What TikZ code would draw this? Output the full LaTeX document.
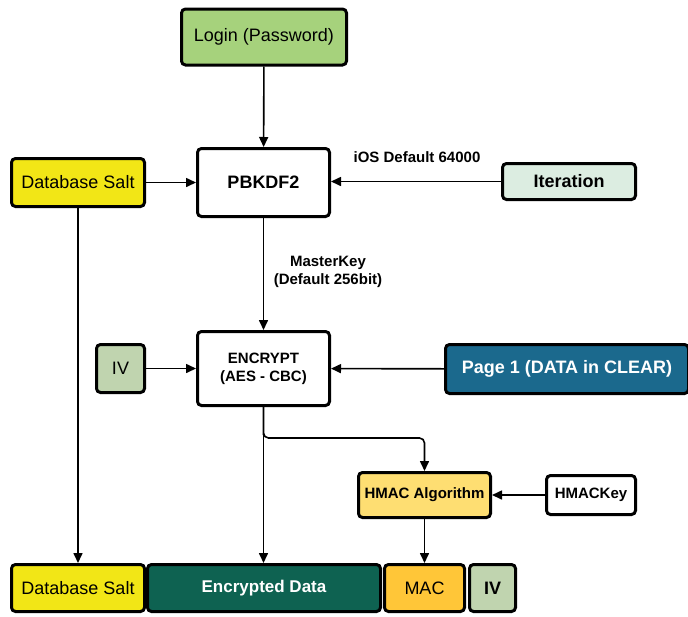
\documentclass[tikz,border=0pt]{standalone}
\usepackage{fontspec}
\setmainfont{Liberation Sans}
\usetikzlibrary{arrows.meta}

\definecolor{logingreen}{HTML}{A6D27C}
\definecolor{saltyellow}{HTML}{F2E616}
\definecolor{itermint}{HTML}{DCEDE1}
\definecolor{ivgreen}{HTML}{C0D4AF}
\definecolor{pageblue}{HTML}{1B698D}
\definecolor{hmacyellow}{HTML}{FEDE72}
\definecolor{datagreen}{HTML}{0E6251}
\definecolor{macorange}{HTML}{FFC638}

\begin{document}
\begin{tikzpicture}[x=1pt,y=-1pt,
  box/.style={draw=black, line width=3pt, rounded corners=4pt, inner sep=0pt,
    align=center, font=\fontsize{18}{21}\selectfont},
  boldbox/.style={box, font=\bfseries\fontsize{18}{21}\selectfont},
  smallbox/.style={box, font=\bfseries\fontsize{15}{18}\selectfont},
  lbl/.style={font=\bfseries\fontsize{15}{18}\selectfont, align=center, inner sep=0pt},
  link/.style={line width=1.6pt, -{Triangle[length=10pt,width=9pt]}}]

\useasboundingbox (0,0) rectangle (688,616);

% key derivation
\node[box, fill=logingreen, minimum width=165pt, minimum height=56pt] (login) at (264,37) {Login (Password)};
\node[boldbox, fill=white, minimum width=132pt, minimum height=68pt] (pbkdf) at (263.5,182.5) {PBKDF2};
\node[box, fill=saltyellow, minimum width=133pt, minimum height=48pt] (salt) at (78,182.5) {Database Salt};
\node[boldbox, fill=itermint, minimum width=133pt, minimum height=36pt] (iter) at (569,181.5) {Iteration};
\node[lbl] (iosdef) at (417,157) {iOS Default 64000};

% encryption
\node[smallbox, fill=white, minimum width=132pt, minimum height=74pt] (enc) at (263.5,368.5) {ENCRYPT\\(AES - CBC)};
\node[box, fill=ivgreen, minimum width=48pt, minimum height=48pt] (iv) at (120.5,368.5) {IV};
\node[boldbox, fill=pageblue, text=white, minimum width=243pt, minimum height=49pt] (page) at (567,369) {Page 1 (DATA in CLEAR)};
\node[lbl] (mkey) at (328,272) {MasterKey\\(Default 256bit)};

% authentication
\node[smallbox, fill=hmacyellow, minimum width=132pt, minimum height=45pt] (hmac) at (424.5,495) {HMAC Algorithm};
\node[smallbox, fill=white, minimum width=89pt, minimum height=39pt] (hkey) at (591,495) {HMACKey};

% stored page layout
\node[box, fill=saltyellow, minimum width=133pt, minimum height=47pt] (bsalt) at (78,588) {Database Salt};
\node[box, fill=datagreen, text=white, font=\bfseries\fontsize{17}{20}\selectfont, minimum width=233pt, minimum height=47pt] (edata) at (264,588) {Encrypted Data};
\node[box, fill=macorange, minimum width=80pt, minimum height=47pt] (mac) at (424.5,588) {MAC};
\node[boldbox, fill=ivgreen, minimum width=46pt, minimum height=47pt] (biv) at (492.5,588) {IV};

\coordinate (split) at (263.5,438);

% connectors
\draw[link] (login) -- (pbkdf);
\draw[link] (salt) -- (pbkdf);
\draw[link] (iter.west) -- (iter.west -| pbkdf.east);
\draw[link] (pbkdf) -- (enc);
\draw[link] (iv) -- (enc);
\draw[link] (page) -- (enc);
\draw[link] (enc.south) -- (edata.north -| enc.south);
\draw[link, rounded corners=5pt] (enc.south) |- (split) -| (hmac.north);
\draw[link] (hkey) -- (hmac);
\draw[link] (hmac) -- (mac);
\draw[link] (salt) -- (bsalt);
\end{tikzpicture}
\end{document}
